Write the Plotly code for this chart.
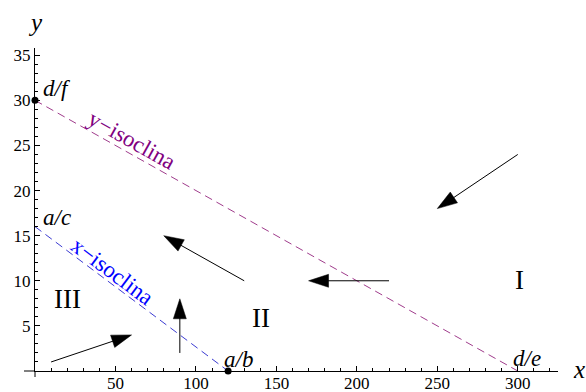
import math
import plotly.graph_objects as go

# ---------------- data ----------------
x_ticks = [50, 100, 150, 200, 250, 300]
y_ticks = [5, 10, 15, 20, 25, 30, 35]

# isoclines: endpoints (intercepts)
y_iso_x = [0, 300]
y_iso_y = [30, 0]
x_iso_x = [0, 120]
x_iso_y = [16, 0]

# marked points
pt_x = [0, 120]
pt_y = [30, 0]

# direction arrows (tail -> head)
arrow_x0 = [10, 90, 130, 220, 300]
arrow_y0 = [1, 2, 10, 10, 24]
arrow_x1 = [60, 90, 80, 170, 250]
arrow_y1 = [4, 8, 15, 10, 18]

# text labels
pt_labels = ["d/f", "a/c", "a/b", "d/e"]
pt_label_x = [13.4, 13.4, 126.4, 305.9]
pt_label_y = [31.3, 17.0, 1.25, 1.35]

region_labels = ["I", "II", "III"]
region_x = [301, 140.5, 20]
region_y = [10.1, 5.9, 8.0]

iso_labels = ["y\u2212isoclina", "x\u2212isoclina"]
iso_label_x = [60.5, 48.0]
iso_label_y = [25.6, 11.0]

# ---------------- layout geometry ----------------
W, H = 586, 392
ML, MR, MT, MB = 35, 28, 48, 21
XR = [0, 325]
YR = [0, 35.8]
px_x = (W - ML - MR) / (XR[1] - XR[0])
px_y = (H - MT - MB) / (YR[1] - YR[0])

FONT = "Liberation Serif, Times New Roman, serif"
PURPLE_LINE = "rgb(160,60,140)"
PURPLE_TEXT = "rgb(128,0,128)"
BLUE_LINE = "rgb(60,60,210)"
BLUE_TEXT = "rgb(0,0,255)"

fig = go.Figure()

fig.add_trace(go.Scatter(x=y_iso_x, y=y_iso_y, mode="lines",
                         line=dict(color=PURPLE_LINE, width=1, dash="8px,5px"),
                         hoverinfo="skip", showlegend=False))
fig.add_trace(go.Scatter(x=x_iso_x, y=x_iso_y, mode="lines",
                         line=dict(color=BLUE_LINE, width=1, dash="8px,5px"),
                         hoverinfo="skip", showlegend=False))

for x0, y0, x1, y1 in zip(arrow_x0, arrow_y0, arrow_x1, arrow_y1):
    fig.add_trace(go.Scatter(
        x=[x0, x1], y=[y0, y1], mode="lines+markers",
        line=dict(color="black", width=1),
        marker=dict(symbol=["circle", "arrow"], size=[0, 21], color="black",
                    opacity=1, angleref="previous",
                    line=dict(width=0.5, color="black")),
        hoverinfo="skip", showlegend=False, cliponaxis=False))

fig.add_trace(go.Scatter(x=pt_x, y=pt_y, mode="markers",
                         marker=dict(color="black", size=7),
                         hoverinfo="skip", showlegend=False, cliponaxis=False))

annotations = []
for t, x, y in zip(pt_labels, pt_label_x, pt_label_y):
    annotations.append(dict(x=x, y=y, text="<i>" + t + "</i>", showarrow=False,
                            font=dict(family=FONT, size=23, color="black")))
for t, x, y in zip(region_labels, region_x, region_y):
    annotations.append(dict(x=x, y=y, text=t, showarrow=False,
                            font=dict(family=FONT, size=27, color="black")))

slopes = [(y_iso_y[1] - y_iso_y[0]) / (y_iso_x[1] - y_iso_x[0]),
          (x_iso_y[1] - x_iso_y[0]) / (x_iso_x[1] - x_iso_x[0])]
colors = [PURPLE_TEXT, BLUE_TEXT]
for t, x, y, s, c in zip(iso_labels, iso_label_x, iso_label_y, slopes, colors):
    ang = math.degrees(math.atan(-s * px_y / px_x))
    annotations.append(dict(x=x, y=y, text=t, showarrow=False, textangle=ang,
                            font=dict(family=FONT, size=23, color=c)))

# axis labels
annotations.append(dict(x=0, y=1, xref="paper", yref="paper",
                        xanchor="center", yanchor="middle", xshift=0, yshift=26,
                        text="<i>y</i>", showarrow=False,
                        font=dict(family=FONT, size=25, color="black")))
annotations.append(dict(x=1, y=0, xref="paper", yref="paper",
                        xanchor="center", yanchor="middle", xshift=21, yshift=2,
                        text="<i>x</i>", showarrow=False,
                        font=dict(family=FONT, size=25, color="black")))

shapes = [
    dict(type="line", xref="paper", yref="paper", x0=-11 / (W - ML - MR), x1=0, y0=0, y1=0,
         line=dict(color="black", width=1)),
    dict(type="line", xref="paper", yref="paper", x0=0, x1=0, y0=-6 / (H - MT - MB), y1=0,
         line=dict(color="black", width=1)),
]

fig.update_layout(
    width=W, height=H,
    margin=dict(l=ML, r=MR, t=MT, b=MB, pad=0, autoexpand=False),
    paper_bgcolor="white", plot_bgcolor="white",
    font=dict(family=FONT, size=17, color="black"),
    annotations=annotations, shapes=shapes, showlegend=False,
)
fig.update_xaxes(range=XR, showgrid=False, zeroline=False, showline=True,
                 automargin=False, ticklabelstandoff=-3,
                 linecolor="black", linewidth=1, ticks="inside", ticklen=5,
                 tickwidth=1, tickcolor="black", tickvals=x_ticks,
                 tickfont=dict(family=FONT, size=17),
                 minor=dict(dtick=10, tick0=0, ticks="inside", ticklen=3,
                            tickcolor="black", tickwidth=1, showgrid=False))
fig.update_yaxes(range=YR, showgrid=False, zeroline=False, showline=True,
                 automargin=False,
                 linecolor="black", linewidth=1, ticks="inside", ticklen=5,
                 tickwidth=1, tickcolor="black", tickvals=y_ticks,
                 tickfont=dict(family=FONT, size=17),
                 minor=dict(dtick=1, tick0=0, ticks="inside", ticklen=3,
                            tickcolor="black", tickwidth=1, showgrid=False))

fig.write_html("out.html", config={"displayModeBar": False},
               post_script="document.body.style.margin='0';document.body.style.overflow='hidden';")
